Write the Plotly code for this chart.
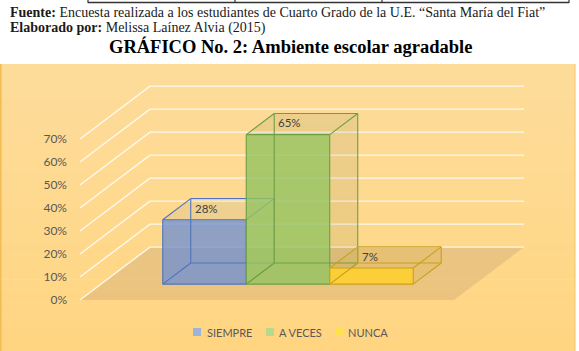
import plotly.graph_objects as go

# ---------------- data ----------------
series = ["SIEMPRE", "A VECES", "NUNCA"]
values = [28, 65, 7]
value_labels = ["28%", "65%", "7%"]
y_ticks = [0, 10, 20, 30, 40, 50, 60, 70]
y_tick_labels = ["0%", "10%", "20%", "30%", "40%", "50%", "60%", "70%"]

front_fill = ["rgba(116,146,208,0.80)", "rgba(149,195,98,0.82)", "rgba(255,209,43,0.85)"]
edge_col = ["#4F74BC", "#6E9F44", "#C9A020"]
side_fill = ["rgba(68,114,196,0.08)", "rgba(90,110,60,0.10)", "rgba(200,160,0,0.10)"]
legend_col = ["#9DB3D9", "#B7D98C", "#FFE04F"]

# ---------------- geometry (layout constants) ----------------
W, H = 579, 351
ML = 72
PXU = 83.5      # px per bar unit
X0 = 183.5      # px of first bar centre at front plane
Y0 = 300        # px of 0 % at front plane
PXP = 2.3       # px per percent
DX, DY = 0.838, 23.0   # oblique depth offset (units, percent)
D0, D1 = 0.3, 0.7      # bar depth span
GAP = 0.74
BW = 1.0

xrng = [(ML - X0) / PXU, (W - X0) / PXU]
yrng = [(Y0 - H) / PXP, Y0 / PXP]


def P(x, v, d):
    return x + d * DX, v + d * DY


def xp(px):
    return (px - ML) / (W - ML)


def yp(py):
    return 1 - py / H


def poly_trace(pts, fill, name=None):
    pts = pts + [pts[0]]
    return go.Scatter(x=[p[0] for p in pts], y=[p[1] for p in pts], mode="lines",
                      fill="toself", fillcolor=fill, line=dict(width=0, color="rgba(0,0,0,0)"),
                      hoverinfo="skip", showlegend=False, name=name)


fig = go.Figure()

# floor
fl = -BW / 2 - GAP
fr = (len(values) - 0.5) * BW + GAP
fig.add_trace(poly_trace([P(fl, 0, 0), P(fr, 0, 0), P(fr, 0, 1), P(fl, 0, 1)],
                         "rgba(205,168,118,0.40)"))

# gridlines (side wall + back wall)
gx, gy = [], []
for v in y_ticks:
    a, b, c = P(fl, v, 0), P(fl, v, 1), P(fr, v, 1)
    gx += [a[0], b[0], c[0], None]
    gy += [a[1], b[1], c[1], None]
fig.add_trace(go.Scatter(x=gx, y=gy, mode="lines",
                         line=dict(color="rgba(255,255,255,0.85)", width=1.4),
                         hoverinfo="skip", showlegend=False))

# bars (oblique boxes)
for i, v in enumerate(values):
    xl, xr = i - BW / 2, i + BW / 2
    fig.add_trace(poly_trace([P(xr, 0, D0), P(xr, v, D0), P(xr, v, D1), P(xr, 0, D1)], side_fill[i]))
    fig.add_trace(poly_trace([P(xl, v, D0), P(xr, v, D0), P(xr, v, D1), P(xl, v, D1)], side_fill[i]))
    fig.add_trace(poly_trace([P(xl, 0, D0), P(xr, 0, D0), P(xr, v, D0), P(xl, v, D0)], front_fill[i],
                             name=series[i]))
    corners = {}
    for cx in (xl, xr):
        for cv in (0, v):
            for cd in (D0, D1):
                corners[(cx, cv, cd)] = P(cx, cv, cd)
    edges = []
    for cv in (0, v):
        for cd in (D0, D1):
            edges.append(((xl, cv, cd), (xr, cv, cd)))
    for cx in (xl, xr):
        for cd in (D0, D1):
            edges.append(((cx, 0, cd), (cx, v, cd)))
    for cx in (xl, xr):
        for cv in (0, v):
            edges.append(((cx, cv, D0), (cx, cv, D1)))
    ex, ey = [], []
    for a, b in edges:
        pa, pb = corners[a], corners[b]
        ex += [pa[0], pb[0], None]
        ey += [pa[1], pb[1], None]
    fig.add_trace(go.Scatter(x=ex, y=ey, mode="lines", line=dict(color=edge_col[i], width=1.1),
                             hoverinfo="skip", showlegend=False))
    lx, ly = P(xl, v, D1)
    fig.add_annotation(x=lx, y=ly, text=value_labels[i], showarrow=False, xanchor="left",
                       yanchor="top", xshift=2, yshift=-1,
                       font=dict(family="Lato", size=11.5, color="#404040"))

# background (chart area with soft gradient)
shapes = []
top_px, bot_px, right_px = 64, 351, 575
n = 24
c1, c2 = (253, 220, 154), (255, 213, 130)
for k in range(n):
    t = k / (n - 1)
    col = tuple(round(c1[j] + (c2[j] - c1[j]) * t) for j in range(3))
    y_a = top_px + (bot_px - top_px) * k / n
    y_b = top_px + (bot_px - top_px) * (k + 1) / n + 0.5
    shapes.append(dict(type="rect", xref="paper", yref="paper", x0=xp(0), x1=xp(right_px),
                       y0=yp(y_b), y1=yp(y_a), fillcolor="rgb(%d,%d,%d)" % col,
                       line=dict(width=0), layer="below"))
shapes.append(dict(type="line", xref="paper", yref="paper", x0=xp(0.8), x1=xp(0.8),
                   y0=yp(bot_px), y1=yp(top_px), line=dict(color="#F2BC50", width=1.5), layer="below"))
shapes.append(dict(type="line", xref="paper", yref="paper", x0=xp(right_px), x1=xp(right_px),
                   y0=yp(bot_px), y1=yp(top_px), line=dict(color="#F6CB72", width=1.2), layer="below"))
# table border fragment at top
shapes.append(dict(type="line", xref="paper", yref="paper", x0=xp(88), x1=xp(569),
                   y0=yp(2.5), y1=yp(2.5), line=dict(color="#333333", width=1.5)))
for vx in (88, 235, 382, 569):
    shapes.append(dict(type="line", xref="paper", yref="paper", x0=xp(vx), x1=xp(vx),
                       y0=yp(3), y1=yp(0), line=dict(color="#333333", width=1.2)))

# legend (swatch + label)
legend_sq_px = [193, 266, 335]
legend_txt_px = [205, 277, 346]
LEG_Y = 332
annotations = []
for i, s in enumerate(series):
    shapes.append(dict(type="rect", xref="paper", yref="paper",
                       x0=xp(legend_sq_px[i]), x1=xp(legend_sq_px[i] + 8),
                       y0=yp(LEG_Y + 4), y1=yp(LEG_Y - 4),
                       fillcolor=legend_col[i], line=dict(width=0)))
    annotations.append(dict(x=xp(legend_txt_px[i]), y=yp(LEG_Y), xref="paper", yref="paper",
                            xanchor="left", yanchor="middle", showarrow=False, text=s,
                            font=dict(family="Lato", size=11, color="#595959")))

serif = "Liberation Serif"
annotations += [
    dict(x=xp(8), y=yp(13), xref="paper", yref="paper", xanchor="left", yanchor="middle",
         showarrow=False,
         text="<b>Fuente:</b> Encuesta realizada a los estudiantes de Cuarto Grado de la U.E. “Santa María del Fiat”",
         font=dict(family=serif, size=14, color="#1a1a1a")),
    dict(x=xp(8), y=yp(28), xref="paper", yref="paper", xanchor="left", yanchor="middle",
         showarrow=False, text="<b>Elaborado por:</b> Melissa Laínez Alvia (2015)",
         font=dict(family=serif, size=14, color="#1a1a1a")),
    dict(x=xp(290), y=yp(46), xref="paper", yref="paper", xanchor="center", yanchor="middle",
         showarrow=False, text="<b>GRÁFICO No. 2: Ambiente escolar agradable</b>",
         font=dict(family=serif, size=18.5, color="#000000")),
]
for a in annotations:
    fig.add_annotation(**a)

fig.update_layout(
    width=W, height=H,
    margin=dict(l=ML, r=0, t=0, b=0, pad=0),
    paper_bgcolor="white", plot_bgcolor="rgba(0,0,0,0)",
    shapes=shapes,
    showlegend=False,
    xaxis=dict(range=xrng, visible=False, fixedrange=True),
    yaxis=dict(range=yrng, tickvals=y_ticks, ticktext=y_tick_labels, showgrid=False,
               zeroline=False, showline=False, ticks="", fixedrange=True, ticklabelstandoff=4,
               tickfont=dict(family="Lato", size=12, color="#595959")),
)

fig.write_html("out.html")
